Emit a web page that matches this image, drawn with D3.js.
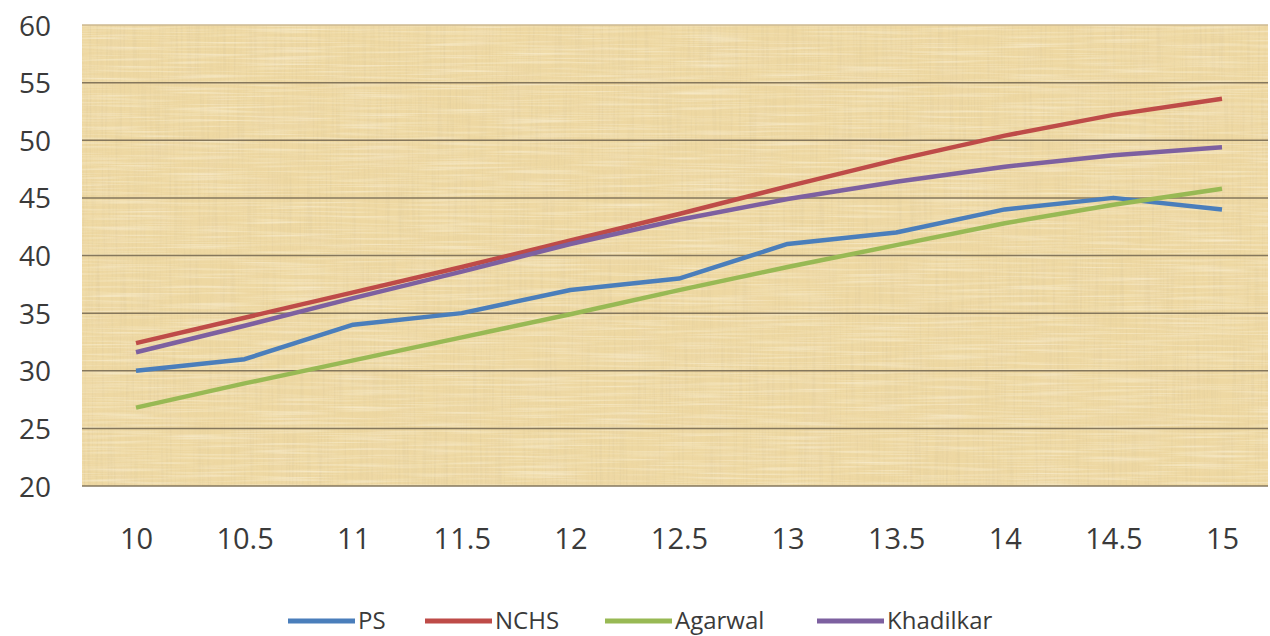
<!DOCTYPE html>
<html><head><meta charset="utf-8">
<script src="https://cdn.jsdelivr.net/npm/d3@7"></script>
<style>body{margin:0;background:#fff}svg{display:block}</style>
</head><body>
<svg id="c" width="1270" height="636"></svg>
<script>
const ages = [10,10.5,11,11.5,12,12.5,13,13.5,14,14.5,15];
const ps = [30,31,34,35,37,38,41,42,44,45,44];
const nchs = [32.4,34.6,36.8,39.0,41.3,43.6,46.0,48.3,50.4,52.2,53.6];
const agarwal = [26.8,28.9,30.9,32.9,34.9,37.0,39.0,40.9,42.8,44.4,45.8];
const khadilkar = [31.6,33.9,36.3,38.6,41.0,43.1,44.9,46.4,47.7,48.7,49.4];
const yTicks = [20,25,30,35,40,45,50,55,60];
const seriesNames = ["PS","NCHS","Agarwal","Khadilkar"];
const seriesColors = ["#4a7ebb","#be4b48","#98b954","#7d60a0"];
const seriesData = [ps,nchs,agarwal,khadilkar];

const FONT = "'Open Sans', sans-serif";
const svg = d3.select("#c");
const L=82,R=1268,T=25,B=486;
const x = d3.scalePoint().domain(ages).range([136,1222]);
const y = d3.scaleLinear().domain([20,60]).range([B,T]);

const defs = svg.append("defs");
function tex(id, freq, seed, rgb){
  const f = defs.append("filter").attr("id",id).attr("filterUnits","userSpaceOnUse")
    .attr("x",L).attr("y",T).attr("width",R-L).attr("height",B-T);
  f.append("feTurbulence").attr("type","fractalNoise").attr("baseFrequency",freq).attr("numOctaves",2).attr("seed",seed).attr("result","n");
  f.append("feColorMatrix").attr("in","n").attr("type","matrix")
   .attr("values",`0 0 0 0 ${rgb[0]}  0 0 0 0 ${rgb[1]}  0 0 0 0 ${rgb[2]}  1.8 0 0 0 -0.8`).attr("result","c");
  f.append("feComposite").attr("in","c").attr("in2","SourceGraphic").attr("operator","in");
}
tex("pap","0.5 0.012",3,[0.72,0.58,0.32]);
tex("pap2","0.012 0.45",7,[1,0.96,0.82]);
tex("pap3","0.03 0.03",11,[0.85,0.7,0.45]);

const area = svg.append("g");
area.append("rect").attr("x",L).attr("y",T).attr("width",R-L).attr("height",B-T).attr("fill","#eed8a2");
area.append("rect").attr("x",L).attr("y",T).attr("width",R-L).attr("height",B-T).attr("fill","#000").attr("filter","url(#pap3)").attr("opacity",0.35);
area.append("rect").attr("x",L).attr("y",T).attr("width",R-L).attr("height",B-T).attr("fill","#000").attr("filter","url(#pap)").attr("opacity",0.55);
area.append("rect").attr("x",L).attr("y",T).attr("width",R-L).attr("height",B-T).attr("fill","#000").attr("filter","url(#pap2)").attr("opacity",0.6);

// gridlines
svg.append("g").selectAll("line").data(yTicks).join("line")
  .attr("x1",L).attr("x2",R).attr("y1",d=>y(d)).attr("y2",d=>y(d))
  .attr("stroke",d=>d===60?"#cdb990":"#85775c").attr("stroke-width",1.5);

// y axis labels
const yAxis = d3.axisLeft(y).tickValues(yTicks).tickSize(0).tickPadding(0);
const gy = svg.append("g").attr("transform","translate(51,0)").call(yAxis);
gy.select(".domain").remove();
gy.selectAll("text").attr("font-family",FONT).attr("font-size",28).attr("fill","#3a3a3a").attr("dy","0.36em");

// x axis labels
const xAxis = d3.axisBottom(x).tickSize(0).tickPadding(0).tickFormat(d=>String(d));
const gx = svg.append("g").call(xAxis);
gx.select(".domain").remove();
gx.selectAll("text").attr("font-family",FONT).attr("font-size",29).attr("fill","#3a3a3a").attr("y",549).attr("dy",0);

// lines
const line = d3.line().x((d,i)=>x(ages[i])).y(d=>y(d));
seriesData.forEach((s,k)=>{
  svg.append("path").datum(s).attr("d",line).attr("fill","none")
    .attr("stroke",seriesColors[k]).attr("stroke-width",4.5).attr("stroke-linejoin","round");
});

// legend
const legX = [288,425,605,817];
const lg = svg.append("g");
seriesNames.forEach((n,k)=>{
  lg.append("line").attr("x1",legX[k]).attr("x2",legX[k]+67).attr("y1",621).attr("y2",621)
    .attr("stroke",seriesColors[k]).attr("stroke-width",5);
  lg.append("text").attr("x",legX[k]+70).attr("y",629).text(n)
    .attr("font-family",FONT).attr("font-size",24).attr("fill","#3a3a3a");
});
</script>
</body></html>
